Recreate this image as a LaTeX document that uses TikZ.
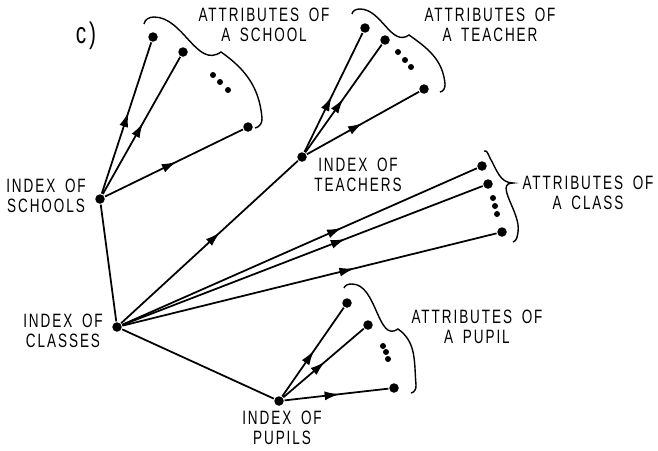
\documentclass[tikz,border=0pt]{standalone}
\usepackage{fontspec}
\newfontfamily\lblfont[FakeStretch=0.7,LetterSpace=10,WordSpace=1.7]{Liberation Sans}
\usetikzlibrary{arrows.meta,decorations.markings}

\begin{document}
\begin{tikzpicture}[
  x=0.02cm, y=-0.02cm,
  line width=1pt,
  >={Latex[length=3mm,width=1.8mm]},
  vnode/.style={circle,fill=black,inner sep=0pt,minimum size=1.9mm},
  edot/.style={circle,fill=black,inner sep=0pt,minimum size=1.2mm},
  lbl/.style={font=\lblfont\fontsize{11}{11.5}\selectfont,align=center,inner sep=0pt},
  midarrow/.style={postaction={decorate,decoration={markings,
      mark=at position #1 with {\arrow{>}}}}},
  midarrow/.default=0.5,
  brace/.style={line width=0.8pt}
]
\useasboundingbox (0,0) rectangle (658,450);

% index nodes
\node[vnode] (schools)  at (100,199) {};
\node[vnode] (classes)  at (117,327) {};
\node[vnode] (teachers) at (302,157) {};
\node[vnode] (pupils)   at (279,401) {};

% attributes of a school
\node[vnode] (sa1) at (153,37) {};
\node[vnode] (sa2) at (183,52) {};
\node[vnode] (sa3) at (248,127) {};
\node[edot] (sd1) at (213,75) {};
\node[edot] (sd2) at (220,82) {};
\node[edot] (sd3) at (228,90) {};

% attributes of a teacher
\node[vnode] (ta1) at (365,28) {};
\node[vnode] (ta2) at (385,40) {};
\node[vnode] (ta3) at (424,89) {};
\node[edot] (td1) at (398,52) {};
\node[edot] (td2) at (405,60) {};
\node[edot] (td3) at (411,67) {};

% attributes of a class
\node[vnode] (ca1) at (482,166) {};
\node[vnode] (ca2) at (488,184) {};
\node[vnode] (ca3) at (502,232) {};
\node[edot] (cd1) at (493,198) {};
\node[edot] (cd2) at (495,206) {};
\node[edot] (cd3) at (497,214) {};

% attributes of a pupil
\node[vnode] (pa1) at (347,303) {};
\node[vnode] (pa2) at (368,325) {};
\node[vnode] (pa3) at (394,388) {};
\node[edot] (pd1) at (383,346) {};
\node[edot] (pd2) at (386,352) {};
\node[edot] (pd3) at (388,359) {};

% tree edges (no arrows)
\draw (schools) -- (classes);
\draw (classes) -- (pupils);

% pointer edges
\draw[midarrow=0.56] (classes) -- (teachers);
\draw[midarrow=0.54] (schools) -- (sa1);
\draw[midarrow=0.52] (schools) -- (sa2);
\draw[midarrow=0.52] (schools) -- (sa3);
\draw[midarrow=0.47] (teachers) -- (ta1);
\draw[midarrow=0.5] (teachers) -- (ta2);
\draw[midarrow=0.5] (teachers) -- (ta3);
\draw[midarrow=0.62] (classes) -- (ca1);
\draw[midarrow=0.62] (classes) -- (ca2);
\draw[midarrow=0.62] (classes) -- (ca3);
\draw[midarrow=0.52] (pupils) -- (pa1);
\draw[midarrow=0.52] (pupils) -- (pa2);
\draw[midarrow=0.53] (pupils) -- (pa3);

% curly braces round each fan
\draw[brace] (144,24) to[out=80,in=180] (154,17) to[out=0,in=215] (221,52)
  to[out=-35,in=95] (262,118) to[out=-85,in=10] (255,128);
\draw[brace] (352,14) to[out=80,in=180] (360,9) to[out=0,in=215] (409,35)
  to[out=-35,in=95] (445,84) to[out=-85,in=10] (440,92);
\draw[brace] (484,151) to[out=20,in=120] (490,158) to[out=-60,in=180] (513,183)
  to[out=180,in=80] (518,232) to[out=-100,in=20] (513,242);
\draw[brace] (344,288) to[out=70,in=180] (352,284) to[out=0,in=215] (398,329)
  to[out=-35,in=95] (416,385) to[out=-85,in=10] (411,393);

% labels
\node[lbl,font=\lblfont\fontsize{17}{17}\selectfont] (cap) at (86,36) {c)};
\node[lbl] (lschools)  at (46,196)  {INDEX OF\\SCHOOLS};
\node[lbl] (lclasses)  at (63,331)  {INDEX OF\\CLASSES};
\node[lbl] (lteachers) at (358,175) {INDEX OF\\TEACHERS};
\node[lbl] (lpupils)   at (282,428) {INDEX OF\\PUPILS};
\node[lbl] (lsa) at (264,25)  {ATTRIBUTES OF\\A SCHOOL};
\node[lbl] (lta) at (490,25)  {ATTRIBUTES OF\\A TEACHER};
\node[lbl] (lca) at (588,193) {ATTRIBUTES OF\\A CLASS};
\node[lbl] (lpa) at (477,327) {ATTRIBUTES OF\\A PUPIL};

\end{tikzpicture}
\end{document}
